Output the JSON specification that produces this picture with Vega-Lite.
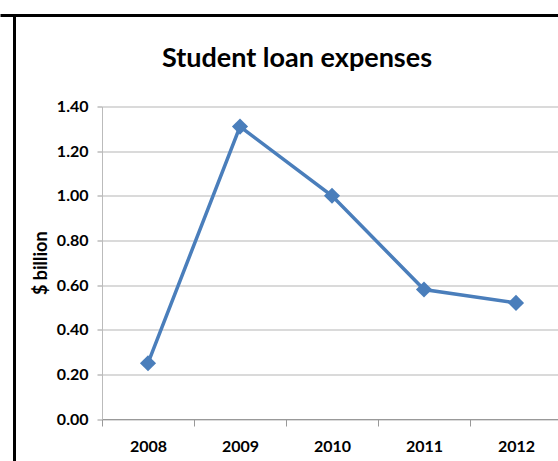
{
  "$schema": "https://vega.github.io/schema/vega-lite/v6.json",
  "width": 460,
  "height": 312.5,
  "autosize": "none",
  "padding": {"left": 102, "top": 106.5, "right": 0, "bottom": 42},
  "background": "white",
  "config": {
    "view": {"stroke": null},
    "font": "Lato, sans-serif"
  },
  "title": {
    "text": "Student loan expenses",
    "font": "Lato, sans-serif",
    "fontSize": 27,
    "fontWeight": "bold",
    "color": "#000000",
    "anchor": "middle",
    "dx": -35,
    "offset": -58
  },
  "data": {
    "values": [
      {"year": "2008", "value": 0.25},
      {"year": "2009", "value": 1.31},
      {"year": "2010", "value": 1.0},
      {"year": "2011", "value": 0.58},
      {"year": "2012", "value": 0.52}
    ]
  },
  "resolve": {"scale": {"x": "independent", "y": "independent"}, "axis": {"x": "independent", "y": "independent"}},
  "layer": [
    {
      "layer": [
        {
          "mark": {"type": "line", "color": "#4A7EBB", "strokeWidth": 3.5},
          "encoding": {
            "x": {
              "field": "year",
              "type": "ordinal",
              "bandPosition": 0.5,
              "scale": {"type": "band", "paddingInner": 0, "paddingOuter": 0},
              "axis": {
                "orient": "bottom",
                "title": null,
                "labelAngle": 0,
                "labelFont": "Lato, sans-serif",
                "labelFontSize": 16,
                "labelFontWeight": "bold",
                "labelColor": "#000000",
                "labelPadding": 12,
                "tickBand": "extent",
                "tickSize": 7,
                "tickColor": "#999999",
                "domainColor": "#999999",
                "grid": false
              }
            },
            "y": {
              "field": "value",
              "type": "quantitative",
              "scale": {"domain": [0, 1.4], "nice": false, "zero": true},
              "axis": {
                "orient": "left",
                "title": "$ billion",
                "titleFont": "Lato, sans-serif",
                "titleFontSize": 18,
                "titleFontWeight": "bold",
                "titleColor": "#000000",
                "titlePadding": 6,
                "values": [0, 0.2, 0.4, 0.6, 0.8, 1.0, 1.2, 1.4],
                "format": ".2f",
                "labelFont": "Lato, sans-serif",
                "labelFontSize": 16,
                "labelFontWeight": "bold",
                "labelColor": "#000000",
                "labelPadding": 9,
                "tickSize": 5,
                "tickColor": "#999999",
                "domainColor": "#bbbbbb",
                "grid": true,
                "gridColor": "#b5b5b5",
                "gridWidth": 1
              }
            }
          }
        },
        {
          "mark": {"type": "point", "shape": "diamond", "filled": true, "color": "#4A7EBB", "opacity": 1, "size": 260},
          "encoding": {
            "x": {
              "field": "year",
              "type": "ordinal",
              "bandPosition": 0.5,
              "scale": {"type": "band", "paddingInner": 0, "paddingOuter": 0}
            },
            "y": {
              "field": "value",
              "type": "quantitative",
              "scale": {"domain": [0, 1.4], "nice": false, "zero": true}
            }
          }
        }
      ]
    },
    {
      "mark": {"type": "point", "opacity": 0},
      "encoding": {
        "x": {
          "field": "value",
          "type": "quantitative",
          "scale": {"domain": [0, 1.4], "nice": false, "range": [-102, 456]},
          "axis": {
            "orient": "top",
            "offset": 91.5,
            "title": null,
            "labels": false,
            "ticks": false,
            "grid": false,
            "domainColor": "#000000",
            "domainWidth": 3
          }
        },
        "y": {
          "field": "value",
          "type": "quantitative",
          "scale": {"domain": [0, 1.4], "nice": false, "range": [354.5, -91.5]},
          "axis": {
            "orient": "left",
            "offset": 88,
            "title": null,
            "labels": false,
            "ticks": false,
            "grid": false,
            "domainColor": "#000000",
            "domainWidth": 3
          }
        }
      }
    }
  ]
}
